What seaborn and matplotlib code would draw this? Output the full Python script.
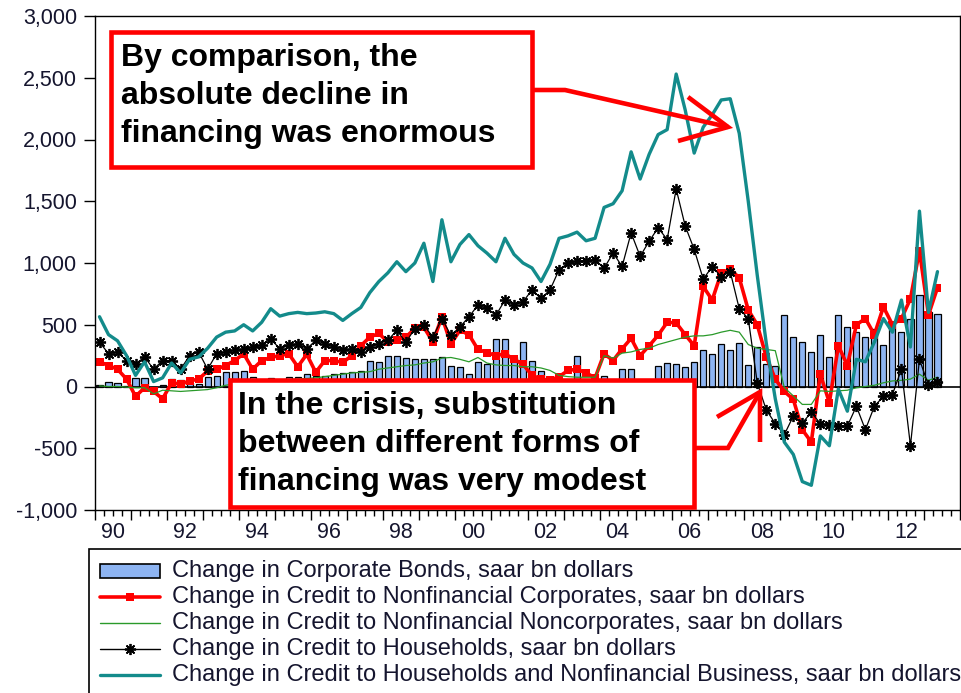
import pandas as pd
import seaborn as sns
import matplotlib.pyplot as plt
from matplotlib.patches import Rectangle
from matplotlib.lines import Line2D
from matplotlib.ticker import FuncFormatter, FixedLocator

# quarterly observations, 1990Q1 - 2013Q2 (saar, bn dollars)
quarters = pd.period_range("1990Q1", "2013Q2", freq="Q")

corporate_bonds = [
    10, 38, 25, 5, 65, 65, -10, 10, 60, 55,
    30, 20, 74, 87, 114, 120, 128, 74, 30, 65,
    40, 74, 74, 100, 87, 87, 101, 109, 114, 128,
    210, 196, 251, 251, 230, 223, 225, 223, 237, 169,
    155, 100, 196, 182, 387, 387, 237, 359, 210, 128,
    30, 10, 20, 251, 0, 10, 87, 20, 141, 141,
    20, 30, 165, 190, 182, 155, 201, 292, 264, 346,
    292, 354, 174, 319, 182, 169, 577, 400, 359, 278,
    414, 237, 577, 482, 441, 400, 468, 332, 523, 441,
    550, 741, 605, 591]

credit_nfc = [
    200, 170, 140, 60, -80, -10, -40, -100, 30, 20,
    45, 60, 125, 140, 170, 210, 265, 140, 210, 235,
    250, 265, 160, 260, 115, 210, 210, 195, 250, 330,
    400, 430, 360, 380, 400, 470, 480, 360, 565, 345,
    455, 420, 300, 275, 250, 265, 220, 180, 90, 60,
    50, 80, 130, 140, 110, 70, 265, 210, 305, 390,
    250, 330, 415, 520, 515, 420, 330, 810, 700, 920,
    950, 880, 620, 500, 240, 60, -40, -104, -350, -450,
    100, -130, 330, 170, 500, 550, 420, 645, 500, 550,
    710, 1100, 580, 800]

credit_noncorp = [
    5, 0, 0, -5, -10, -10, -60, -30, -35, -40,
    -35, -30, -25, -10, 10, 20, 30, 40, 40, 50,
    55, 55, 60, 65, 70, 80, 90, 100, 110, 115,
    120, 140, 150, 160, 170, 175, 190, 200, 230, 235,
    220, 200, 235, 190, 175, 170, 170, 160, 160, 150,
    130, 90, 80, 75, 75, 75, 250, 230, 270, 280,
    300, 310, 340, 360, 380, 400, 410, 410, 420, 440,
    455, 440, 340, 310, 300, 290, -8, -76, -145, -145,
    -35, -40, -35, -30, -10, 0, 10, 30, 45, 50,
    60, 100, 50, 75]

credit_households = [
    360, 265, 280, 210, 180, 240, 140, 210, 210, 140,
    250, 280, 140, 265, 280, 292, 300, 320, 332, 387,
    305, 332, 346, 305, 373, 346, 319, 292, 305, 278,
    319, 346, 373, 455, 359, 468, 496, 400, 550, 414,
    482, 564, 659, 632, 577, 700, 659, 686, 782, 713,
    782, 945, 999, 1013, 1020, 1027, 958, 1081, 972, 1244,
    1054, 1176, 1285, 1190, 1600, 1300, 1110, 870, 970, 890,
    930, 630, 550, 30, -190, -300, -390, -240, -295, -210,
    -300, -310, -320, -320, -160, -350, -160, -80, -65, 140,
    -480, 220, 10, 35]

credit_total = [
    565, 420, 370, 250, 90, 200, 40, 70, 190, 110,
    220, 240, 310, 400, 440, 450, 500, 450, 520, 630,
    570, 590, 600, 590, 595, 605, 590, 535, 590, 640,
    760, 850, 920, 1010, 930, 1000, 1160, 850, 1350, 1010,
    1150, 1230, 1140, 1080, 1010, 1200, 1070, 1000, 960, 850,
    990, 1200, 1220, 1250, 1180, 1200, 1450, 1480, 1585, 1900,
    1680, 1880, 2040, 2080, 2530, 2240, 1890, 2100, 2200, 2320,
    2330, 2050, 1500, 900, 350, -100, -450, -550, -770, -800,
    -400, -480, -20, -200, 220, 200, 360, 550, 440, 700,
    320, 1420, 600, 930]

year_labels = ["90", "92", "94", "96", "98", "00", "02", "04", "06", "08", "10", "12"]
legend_labels = [
    "Change in Corporate Bonds, saar bn dollars",
    "Change in Credit to Nonfinancial Corporates, saar bn dollars",
    "Change in Credit to Nonfinancial Noncorporates, saar bn dollars",
    "Change in Credit to Households, saar bn dollars",
    "Change in Credit to Households and Nonfinancial Business, saar bn dollars",
]
note_top = ["By comparison, the", "absolute decline in", "financing was enormous"]
note_bottom = ["In the crisis, substitution", "between different forms of", "financing was very modest"]

df = pd.DataFrame({
    "t": quarters.year + (quarters.quarter - 0.5) / 4,
    "bonds": corporate_bonds,
    "nfc": credit_nfc,
    "noncorp": credit_noncorp,
    "hh": credit_households,
    "total": credit_total,
})

BAR = "#8DB4F2"
RED = "#FF0000"
GREEN = "#2A9A2A"
TEAL = "#138B8B"
INK = "#15152e"
STAR = (8, 2, 0)

sns.set_theme(style="white")
plt.rcParams["font.family"] = ["Liberation Sans", "DejaVu Sans"]

W, H = 961, 693
fig = plt.figure(figsize=(W / 100, H / 100), dpi=100)
ax = fig.add_axes([95 / W, 1 - 510 / H, (960 - 95) / W, (510 - 16) / H])

sns.barplot(data=df, x="t", y="bonds", native_scale=True, width=0.68, color=BAR,
            saturation=1, edgecolor="black", linewidth=0.9, errorbar=None, ax=ax, zorder=1)
ax.axhline(0, color="black", lw=1.2, zorder=1.5)
sns.lineplot(data=df, x="t", y="nfc", color=RED, lw=2.6, marker="s", markersize=5.5,
             markeredgecolor=RED, markeredgewidth=0, ax=ax, zorder=2)
sns.lineplot(data=df, x="t", y="noncorp", color=GREEN, lw=0.9, ax=ax, zorder=3)
sns.lineplot(data=df, x="t", y="hh", color="black", lw=0.9, marker=STAR, markersize=8,
             markeredgecolor="black", markeredgewidth=1.3, ax=ax, zorder=4)
sns.lineplot(data=df, x="t", y="total", color=TEAL, lw=2.4, ax=ax, zorder=5)

ax.set_xlim(1990, 2014)
ax.set_ylim(-1000, 3000)
ax.set_xlabel("")
ax.set_ylabel("")
ax.set_yticks(range(-1000, 3001, 500))
ax.yaxis.set_major_formatter(FuncFormatter(lambda v, p: f"{v:,.0f}"))
ax.xaxis.set_major_locator(FixedLocator(range(1990, 2015)))
ax.xaxis.set_minor_locator(FixedLocator([1990 + i / 4 for i in range(97)]))
ax.tick_params(axis="x", which="major", bottom=True, length=7, width=1, color="black",
               labelbottom=False)
ax.tick_params(axis="x", which="minor", bottom=True, length=4, width=1, color="black")
ax.tick_params(axis="y", left=True, length=8, width=1, color="black", pad=5,
               labelsize=15.5, labelcolor=INK)
for s in ax.spines.values():
    s.set_color("black")
    s.set_linewidth(1)

for i, lab in enumerate(year_labels):
    ax.text(1990.5 + 2 * i, -0.045, lab, transform=ax.get_xaxis_transform(),
            ha="center", va="center", fontsize=15.5, color=INK)

# overlay in pixel units for the call-out boxes and the legend
ov = fig.add_axes([0, 0, 1, 1], zorder=10)
ov.set_xlim(0, W)
ov.set_ylim(H, 0)
ov.axis("off")
ov.patch.set_alpha(0)

ov.add_patch(Rectangle((111, 32), 421, 135, lw=3.3, ec=RED, fc="white"))
ov.add_patch(Rectangle((230, 380), 464, 127, lw=3.3, ec=RED, fc="white"))
for i, line in enumerate(note_top):
    ov.text(121, 66 + 38 * i, line, fontsize=23, fontweight="bold", va="baseline", color="black")
for i, line in enumerate(note_bottom):
    ov.text(238, 414 + 38 * i, line, fontsize=23, fontweight="bold", va="baseline", color="black")

arrow = dict(color=RED, lw=3.3, solid_capstyle="butt", solid_joinstyle="miter")
ov.plot([532, 565, 728], [90, 90, 127], **arrow)
ov.plot([688, 728, 678], [97, 127, 141], **arrow)
ov.plot([694, 728, 760], [448, 448, 392], **arrow)
ov.plot([760, 760, 717], [442, 392, 417], **arrow)

# legend
ov.add_patch(Rectangle((89, 549), 900, 160, lw=1.2, ec="black", fc="white"))
rows = [571, 597, 623, 649, 675]
ov.add_patch(Rectangle((100, rows[0] - 7), 60, 14, lw=1.2, ec="black", fc=BAR))
ov.add_line(Line2D([100, 160], [rows[1]] * 2, color=RED, lw=2.6))
ov.add_line(Line2D([130], [rows[1]], color=RED, marker="s", markersize=6, markeredgewidth=0))
ov.add_line(Line2D([100, 160], [rows[2]] * 2, color=GREEN, lw=1))
ov.add_line(Line2D([100, 160], [rows[3]] * 2, color="black", lw=1))
ov.add_line(Line2D([130], [rows[3]], color="black", marker=STAR, markersize=8, markeredgewidth=1.3))
ov.add_line(Line2D([100, 160], [rows[4]] * 2, color=TEAL, lw=2.4))
for y, lab in zip(rows, legend_labels):
    ov.text(172, y, lab, fontsize=17, va="center", color=INK)

fig.savefig("out.png", dpi=100)
